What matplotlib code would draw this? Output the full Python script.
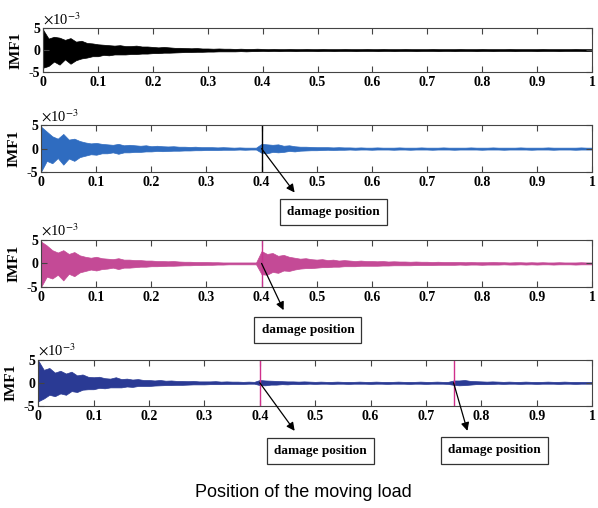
# IMF1 четырёх сигналов вдоль положения подвижной нагрузки
import numpy as np
import matplotlib.pyplot as plt

plt.rcParams['font.family'] = 'Liberation Serif'
plt.rcParams['mathtext.fontset'] = 'stix'
plt.rcParams['axes.unicode_minus'] = False

# Положения отсчётов огибающей (шаг 0.01)
pos = np.round(np.arange(101) * 0.01, 2)

# Огибающая сигналов, единицы 10^-3 (верх / низ)
up1 = [4.6, 2.6, 3.0, 2.8, 2.3, 2.7, 1.9, 2.1, 1.6, 1.5,
       1.3, 1.2, 1.1, 1.0, 1.1, 0.9, 0.9, 1.0, 0.8, 0.8,
       0.7, 0.6, 0.7, 0.6, 0.5, 0.5, 0.45, 0.4, 0.45, 0.35,
       0.35, 0.3, 0.35, 0.3, 0.3, 0.25, 0.3, 0.25, 0.25, 0.3,
       0.25, 0.2, 0.25, 0.2, 0.2, 0.25, 0.2, 0.2, 0.25, 0.2,
       0.2, 0.25, 0.2, 0.2, 0.2, 0.25, 0.2, 0.2, 0.2, 0.25,
       0.2, 0.2, 0.25, 0.2, 0.2, 0.2, 0.25, 0.2, 0.2, 0.2,
       0.2, 0.25, 0.2, 0.2, 0.2, 0.2, 0.25, 0.2, 0.2, 0.2,
       0.25, 0.2, 0.2, 0.2, 0.2, 0.25, 0.2, 0.2, 0.2, 0.2,
       0.2, 0.25, 0.2, 0.2, 0.2, 0.2, 0.2, 0.25, 0.2, 0.2, 0.2]
dn1 = [4.0, 3.6, 2.6, 3.3, 2.1, 3.1, 2.3, 1.9, 1.7, 1.4,
       1.4, 1.1, 1.2, 1.0, 1.0, 1.0, 0.9, 0.9, 0.8, 0.8,
       0.7, 0.7, 0.6, 0.6, 0.55, 0.5, 0.45, 0.45, 0.4, 0.4,
       0.35, 0.35, 0.3, 0.3, 0.3, 0.3, 0.25, 0.3, 0.25, 0.25,
       0.2, 0.25, 0.2, 0.25, 0.2, 0.2, 0.25, 0.2, 0.2, 0.2,
       0.25, 0.2, 0.2, 0.25, 0.2, 0.2, 0.2, 0.25, 0.2, 0.2,
       0.2, 0.25, 0.2, 0.2, 0.25, 0.2, 0.2, 0.2, 0.25, 0.2,
       0.2, 0.2, 0.25, 0.2, 0.2, 0.25, 0.2, 0.2, 0.2, 0.25,
       0.2, 0.2, 0.25, 0.2, 0.2, 0.2, 0.25, 0.2, 0.2, 0.2,
       0.25, 0.2, 0.2, 0.2, 0.25, 0.2, 0.2, 0.2, 0.2, 0.25, 0.2]

up2 = [4.6, 3.6, 2.6, 2.1, 3.1, 1.9, 2.1, 1.6, 1.3, 1.1,
       1.2, 1.0, 0.9, 0.8, 1.0, 0.7, 0.8, 0.7, 0.6, 0.7,
       0.5, 0.6, 0.5, 0.45, 0.5, 0.4, 0.4, 0.35, 0.4, 0.3,
       0.3, 0.3, 0.25, 0.3, 0.25, 0.2, 0.25, 0.2, 0.2, 0.2,
       1.0, 0.9, 0.8, 0.9, 0.6, 0.7, 0.5, 0.4, 0.4, 0.35,
       0.3, 0.3, 0.3, 0.25, 0.3, 0.25, 0.25, 0.2, 0.25, 0.2,
       0.2, 0.25, 0.2, 0.2, 0.2, 0.25, 0.2, 0.2, 0.2, 0.25,
       0.2, 0.2, 0.2, 0.25, 0.2, 0.2, 0.2, 0.2, 0.25, 0.2,
       0.2, 0.2, 0.25, 0.2, 0.2, 0.2, 0.2, 0.25, 0.2, 0.2,
       0.2, 0.2, 0.25, 0.2, 0.2, 0.2, 0.2, 0.2, 0.25, 0.2, 0.2]
dn2 = [4.8, 2.6, 3.1, 2.0, 3.4, 2.1, 2.6, 1.8, 1.5, 1.2,
       1.3, 1.0, 1.0, 0.8, 1.1, 0.8, 0.8, 0.7, 0.7, 0.6,
       0.6, 0.5, 0.55, 0.5, 0.45, 0.45, 0.4, 0.4, 0.35, 0.35,
       0.3, 0.3, 0.3, 0.25, 0.25, 0.25, 0.2, 0.25, 0.2, 0.2,
       0.9, 1.0, 0.7, 0.8, 0.7, 0.5, 0.6, 0.45, 0.4, 0.35,
       0.35, 0.3, 0.25, 0.3, 0.25, 0.25, 0.2, 0.25, 0.2, 0.2,
       0.25, 0.2, 0.2, 0.2, 0.25, 0.2, 0.2, 0.25, 0.2, 0.2,
       0.2, 0.25, 0.2, 0.2, 0.2, 0.25, 0.2, 0.2, 0.2, 0.2,
       0.25, 0.2, 0.2, 0.2, 0.25, 0.2, 0.2, 0.2, 0.2, 0.25,
       0.2, 0.2, 0.2, 0.25, 0.2, 0.2, 0.2, 0.25, 0.2, 0.2, 0.2]

up3 = [4.6, 3.8, 2.8, 2.3, 2.8, 2.0, 2.4, 1.7, 1.4, 1.2,
       1.4, 1.1, 1.0, 0.9, 1.1, 0.8, 0.8, 0.7, 0.7, 0.6,
       0.6, 0.5, 0.5, 0.45, 0.5, 0.4, 0.35, 0.35, 0.3, 0.3,
       0.3, 0.25, 0.25, 0.2, 0.2, 0.2, 0.2, 0.2, 0.2, 0.2,
       2.6, 2.0, 2.2, 1.6, 1.8, 1.4, 1.2, 1.0, 1.1, 0.9,
       0.8, 0.9, 0.7, 0.8, 0.6, 0.7, 0.6, 0.5, 0.6, 0.5,
       0.5, 0.45, 0.5, 0.4, 0.45, 0.4, 0.4, 0.35, 0.4, 0.35,
       0.35, 0.3, 0.35, 0.3, 0.3, 0.3, 0.3, 0.25, 0.3, 0.25,
       0.25, 0.25, 0.3, 0.25, 0.25, 0.2, 0.25, 0.25, 0.2, 0.25,
       0.2, 0.25, 0.2, 0.2, 0.25, 0.2, 0.2, 0.2, 0.25, 0.2, 0.2]
dn3 = [4.9, 2.8, 3.2, 2.4, 3.6, 2.2, 2.7, 1.9, 1.6, 1.3,
       1.5, 1.2, 1.1, 0.9, 1.2, 0.9, 0.9, 0.8, 0.7, 0.7,
       0.6, 0.6, 0.55, 0.5, 0.5, 0.45, 0.4, 0.4, 0.35, 0.35,
       0.3, 0.3, 0.25, 0.25, 0.2, 0.2, 0.2, 0.2, 0.2, 0.2,
       2.3, 2.4, 1.8, 2.0, 1.5, 1.6, 1.3, 1.1, 1.0, 1.0,
       0.9, 0.8, 0.8, 0.7, 0.7, 0.6, 0.6, 0.6, 0.5, 0.5,
       0.5, 0.5, 0.45, 0.45, 0.4, 0.4, 0.4, 0.4, 0.35, 0.35,
       0.35, 0.35, 0.3, 0.3, 0.3, 0.3, 0.25, 0.3, 0.25, 0.25,
       0.3, 0.25, 0.25, 0.25, 0.2, 0.25, 0.25, 0.2, 0.25, 0.2,
       0.25, 0.2, 0.2, 0.25, 0.2, 0.2, 0.2, 0.25, 0.2, 0.2, 0.2]

up4 = [4.8, 2.8, 3.2, 2.2, 2.6, 2.0, 2.4, 1.6, 1.8, 1.3,
       1.2, 1.3, 1.0, 0.9, 1.2, 0.8, 0.9, 0.7, 0.8, 0.6,
       0.6, 0.5, 0.6, 0.45, 0.5, 0.4, 0.4, 0.35, 0.4, 0.3,
       0.3, 0.3, 0.35, 0.25, 0.3, 0.25, 0.25, 0.2, 0.25, 0.2,
       0.6, 0.5, 0.45, 0.4, 0.35, 0.3, 0.3, 0.25, 0.3, 0.25,
       0.2, 0.25, 0.2, 0.2, 0.25, 0.2, 0.2, 0.2, 0.25, 0.2,
       0.2, 0.25, 0.2, 0.2, 0.2, 0.25, 0.2, 0.2, 0.2, 0.25,
       0.2, 0.2, 0.25, 0.2, 0.2, 0.5, 0.5, 0.6, 0.4, 0.35,
       0.3, 0.25, 0.3, 0.25, 0.2, 0.25, 0.2, 0.2, 0.25, 0.2,
       0.2, 0.2, 0.25, 0.2, 0.2, 0.25, 0.2, 0.2, 0.2, 0.2, 0.2]
dn4 = [4.0, 3.4, 2.6, 2.9, 2.3, 2.6, 1.8, 2.0, 1.5, 1.4,
       1.4, 1.1, 1.2, 1.0, 1.0, 1.0, 0.8, 0.9, 0.7, 0.7,
       0.7, 0.6, 0.55, 0.5, 0.5, 0.45, 0.45, 0.4, 0.35, 0.35,
       0.35, 0.3, 0.3, 0.3, 0.25, 0.25, 0.25, 0.25, 0.2, 0.2,
       0.5, 0.55, 0.4, 0.4, 0.3, 0.35, 0.25, 0.3, 0.25, 0.2,
       0.25, 0.2, 0.2, 0.25, 0.2, 0.2, 0.25, 0.2, 0.2, 0.2,
       0.25, 0.2, 0.2, 0.25, 0.2, 0.2, 0.2, 0.25, 0.2, 0.2,
       0.25, 0.2, 0.2, 0.2, 0.25, 0.45, 0.55, 0.5, 0.4, 0.3,
       0.3, 0.3, 0.25, 0.2, 0.25, 0.2, 0.2, 0.25, 0.2, 0.2,
       0.25, 0.2, 0.2, 0.2, 0.25, 0.2, 0.2, 0.25, 0.2, 0.2, 0.2]

uppers = [up1, up2, up3, up4]
lowers = [dn1, dn2, dn3, dn4]
colors = ['black', '#2f6cc0', '#c44a96', '#2a3a94']

# Положения повреждений и цвет отметок
damage = [[], [0.4], [0.4], [0.4, 0.75]]
mark_colors = [None, 'black', '#c8358f', '#d0308c']

# Подписи стрелок: (начало по x, острие стрелки, центр рамки) — острие и рамка в долях осей
labels = [[],
          [(0.4, (0.46, -0.43), (0.531, -0.84))],
          [(0.4, (0.44, -0.49), (0.484, -0.91))],
          [(0.4, (0.463, -0.54), (0.51, -0.98)), (0.75, (0.775, -0.54), (0.824, -0.96))]]

xticks = [0, 0.1, 0.2, 0.3, 0.4, 0.5, 0.6, 0.7, 0.8, 0.9, 1]
xticklabels = ['0', '0.1', '0.2', '0.3', '0.4', '0.5', '0.6', '0.7', '0.8', '0.9', '1']
yticks = [-5, 0, 5]
yticklabels = ['-5', '0', '5']

# Размещение осей (доли фигуры)
rects = [[0.072, 0.858, 0.918, 0.087],
         [0.069, 0.661, 0.921, 0.093],
         [0.069, 0.435, 0.921, 0.093],
         [0.064, 0.201, 0.926, 0.091]]

fig = plt.figure(figsize=(5.98, 5.08), dpi=100)

for k in range(4):
    ax = fig.add_axes(rects[k])
    ax.fill_between(pos, uppers[k], -np.array(lowers[k]), color=colors[k], lw=0.5)
    for d in damage[k]:
        ax.axvline(d, color=mark_colors[k], lw=1.0)
    ax.set_xlim(0, 1)
    ax.set_ylim(-5, 5)
    ax.set_xticks(xticks)
    ax.set_xticklabels(xticklabels, fontsize=10, fontweight='bold')
    ax.set_yticks(yticks)
    ax.set_yticklabels(yticklabels, fontsize=10, fontweight='bold')
    ax.tick_params(direction='in', top=True, right=True, length=4, width=0.8,
                   color='#444444', pad=3)
    ax.tick_params(axis='y', pad=2)
    for s in ax.spines.values():
        s.set_color('#444444')
        s.set_linewidth(0.8)
    ax.text(-0.05, 0.5, 'IMF1', transform=ax.transAxes, rotation=90,
            ha='center', va='center', fontsize=11, fontweight='bold')
    ax.text(0.0, 1.015, r'$\times$10$^{-3}$', transform=ax.transAxes,
            ha='left', va='bottom', fontsize=10.5)
    for x0, tip, box in labels[k]:
        ax.annotate('', xy=tip, xycoords='axes fraction',
                    xytext=(x0, 0), textcoords='data',
                    arrowprops=dict(arrowstyle='-|>', color='black', lw=0.9,
                                    mutation_scale=12, shrinkA=0, shrinkB=0),
                    annotation_clip=False)
        ax.text(box[0], box[1], 'damage position', transform=ax.transAxes,
                ha='center', va='center', fontsize=9.5, fontweight='bold',
                bbox=dict(boxstyle='square,pad=0.55', fc='white', ec='#333333', lw=0.9),
                clip_on=False)

fig.text(0.507, 0.031, 'Position of the moving load', ha='center', va='center',
         fontsize=13, family='Liberation Sans')

fig.savefig('out.png', dpi=100)
